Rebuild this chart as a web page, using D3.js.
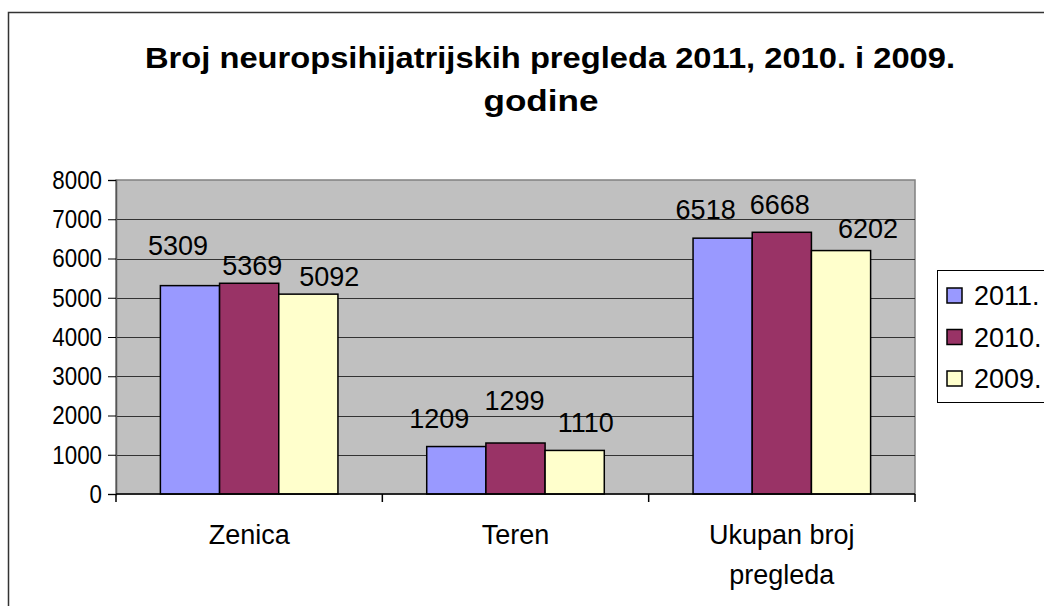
<!DOCTYPE html>
<html>
<head>
<meta charset="utf-8">
<script src="https://cdn.jsdelivr.net/npm/d3@7"></script>
<style>
  body { margin: 0; background: #fff; }
  svg { display: block; font-family: "Liberation Sans", Arial, sans-serif; }
</style>
</head>
<body>
<svg id="chart" width="1044" height="606"></svg>
<script>
// chart data
const categories = ['Zenica', 'Teren', 'Ukupan broj\npregleda'];
const seriesNames = ['2011.', '2010.', '2009.'];
const values2011 = [5309, 1209, 6518];
const values2010 = [5369, 1299, 6668];
const values2009 = [5092, 1110, 6202];
const yTicks = [0, 1000, 2000, 3000, 4000, 5000, 6000, 7000, 8000];
const titleLines = ['Broj neuropsihijatrijskih pregleda 2011, 2010. i 2009.', 'godine'];

const seriesValues = [values2011, values2010, values2009];
const colors = ['#9999ff', '#993366', '#ffffcc'];

// labels were hand-moved in the original, [dx, dy] per category / series
const labelShift = [
  [[-12, -31], [3, -8], [21, -8]],
  [[-17, -19], [-1, -33], [11, -18]],
  [[-17, -19], [-2, -18], [27, -13]]
];

const svg = d3.select('#chart');

// outer chart border
svg.append('rect')
  .attr('x', 8.5).attr('y', 12.5)
  .attr('width', 1100).attr('height', 700)
  .attr('fill', '#fff')
  .attr('stroke', '#333').attr('stroke-width', 1.5);

// title
svg.selectAll('.title')
  .data(titleLines)
  .enter()
  .append('text')
  .attr('class', 'title')
  .attr('x', (d, i) => i === 0 ? 550 : 541)
  .attr('y', (d, i) => 68 + i * 43)
  .attr('text-anchor', 'middle')
  .attr('font-size', 29)
  .attr('font-weight', 'bold')
  .attr('textLength', (d, i) => i === 0 ? 810 : 115)
  .attr('lengthAdjust', 'spacingAndGlyphs')
  .text(d => d);

const plot = { left: 116, top: 180, right: 915, bottom: 494 };

const x = d3.scaleBand()
  .domain(categories)
  .range([plot.left, plot.right]);

// gap width 150% -> 3 bars + 1.5 bar widths per band
const barW = x.bandwidth() / 4.5;
const xInner = d3.scaleBand()
  .domain(d3.range(seriesNames.length))
  .range([barW * 0.75, barW * 3.75]);

const y = d3.scaleLinear()
  .domain([0, 8000])
  .range([plot.bottom, plot.top]);

// plot area
svg.append('rect')
  .attr('x', plot.left).attr('y', plot.top)
  .attr('width', plot.right - plot.left).attr('height', plot.bottom - plot.top)
  .attr('fill', '#c0c0c0')
  .attr('stroke', '#808080').attr('stroke-width', 1.5);

// gridlines
svg.append('g')
  .selectAll('line')
  .data(yTicks.filter(t => t > 0 && t < 8000))
  .enter()
  .append('line')
  .attr('x1', plot.left).attr('x2', plot.right)
  .attr('y1', d => Math.round(y(d)) + 0.5).attr('y2', d => Math.round(y(d)) + 0.5)
  .attr('stroke', '#333').attr('stroke-width', 1);

// y axis
const yAxis = svg.append('g')
  .attr('transform', `translate(${plot.left},0)`)
  .call(d3.axisLeft(y).tickValues(yTicks).tickFormat(d3.format('d')).tickSize(8).tickPadding(6));
yAxis.select('.domain').attr('stroke', '#555').attr('stroke-width', 1.5);
yAxis.selectAll('.tick line').attr('stroke', '#000');
yAxis.selectAll('text')
  .attr('font-size', 26)
  .attr('fill', '#000')
  .attr('font-family', '"Liberation Sans", Arial, sans-serif')
  .each(function () {
    const w = this.getComputedTextLength();
    d3.select(this).attr('textLength', w * 0.86).attr('lengthAdjust', 'spacingAndGlyphs');
  });

// bars
const groups = svg.append('g')
  .selectAll('g')
  .data(categories)
  .enter()
  .append('g')
  .attr('transform', d => `translate(${x(d)},0)`);

groups.selectAll('rect')
  .data((c, ci) => seriesValues.map((vals, si) => ({ si, v: vals[ci] })))
  .enter()
  .append('rect')
  .attr('x', d => xInner(d.si))
  .attr('y', d => y(d.v))
  .attr('width', xInner.bandwidth())
  .attr('height', d => plot.bottom - y(d.v))
  .attr('fill', d => colors[d.si])
  .attr('stroke', '#000').attr('stroke-width', 1.5);

// data labels
groups.selectAll('text')
  .data((c, ci) => seriesValues.map((vals, si) => ({ ci, si, v: vals[ci] })))
  .enter()
  .append('text')
  .attr('x', d => xInner(d.si) + xInner.bandwidth() / 2 + labelShift[d.ci][d.si][0])
  .attr('y', d => y(d.v) + labelShift[d.ci][d.si][1])
  .attr('text-anchor', 'middle')
  .attr('font-size', 27)
  .text(d => d.v);

// x axis: base line and boundary ticks
svg.append('line')
  .attr('x1', plot.left).attr('x2', plot.right)
  .attr('y1', plot.bottom).attr('y2', plot.bottom)
  .attr('stroke', '#000').attr('stroke-width', 1.5);

const bounds = categories.map(c => x(c)).concat([plot.right]);
svg.append('g')
  .selectAll('line')
  .data(bounds)
  .enter()
  .append('line')
  .attr('x1', d => d).attr('x2', d => d)
  .attr('y1', plot.bottom).attr('y2', plot.bottom + 8)
  .attr('stroke', '#000').attr('stroke-width', 1.5);

// category labels
const catLabels = svg.append('g')
  .selectAll('text')
  .data(categories)
  .enter()
  .append('text')
  .attr('x', d => x(d) + x.bandwidth() / 2)
  .attr('y', 544)
  .attr('text-anchor', 'middle')
  .attr('font-size', 27);
catLabels.selectAll('tspan')
  .data(d => d.split('\n'))
  .enter()
  .append('tspan')
  .attr('x', function () { return d3.select(this.parentNode).attr('x'); })
  .attr('dy', (d, i) => i === 0 ? 0 : 40)
  .text(d => d);

// legend
const legend = svg.append('g').attr('transform', 'translate(937,270)');
legend.append('rect')
  .attr('x', 0.5).attr('y', 0.5)
  .attr('width', 200).attr('height', 132)
  .attr('fill', '#fff')
  .attr('stroke', '#000').attr('stroke-width', 1);

const items = legend.selectAll('.item')
  .data(seriesNames)
  .enter()
  .append('g')
  .attr('class', 'item')
  .attr('transform', (d, i) => `translate(0,${i * 41.5})`);
items.append('rect')
  .attr('x', 10).attr('y', 18)
  .attr('width', 15).attr('height', 15)
  .attr('fill', (d, i) => colors[i])
  .attr('stroke', '#000').attr('stroke-width', 1.5);
items.append('text')
  .attr('x', 37).attr('y', 35)
  .attr('font-size', 27)
  .text(d => d);
</script>
</body>
</html>
